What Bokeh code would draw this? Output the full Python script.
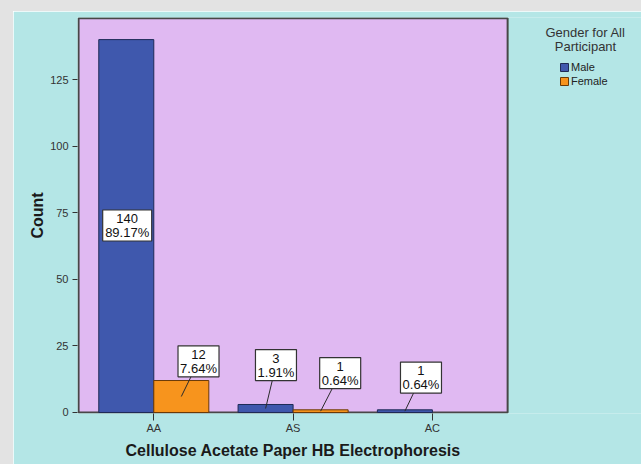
from bokeh.plotting import figure
from bokeh.models import (Range1d, FixedTicker, Legend, LegendItem, Label, Title,
                          ColumnDataSource, BoxAnnotation)
from bokeh.core.properties import value
from bokeh.embed import file_html
from bokeh.resources import INLINE

# ---- data ----
categories = ["AA", "AS", "AC"]
male_counts = [140, 3, 1]
female_counts = [12, 1, 0]
y_ticks = [0, 25, 50, 75, 100, 125]
legend_title = ["Gender for All", "Participant"]
series_names = ["Male", "Female"]
x_title = "Cellulose Acetate Paper HB Electrophoresis"
y_title = "Count"

total = sum(male_counts) + sum(female_counts)

# ---- styling / label placement (not data) ----
BG_GRAY = "#e3e3e3"
TEAL = "#b4e6e6"
PURPLE = "#e0b9f2"
MALE_C = "#3f58ad"
FEMALE_C = "#f7941d"
FONT = "Liberation Sans"
BAR_W = 0.395
OFF = 0.1975
X_LO, X_HI = -0.54, 2.54       # extent of the plotting area (purple)
Y_HI = 148.0
# label box centre: offset from category centre (x units) and height (count units)
male_lab_dx = [-0.191, -0.123, -0.082]
male_lab_y = [70.2, 17.8, 13.1]
female_lab_dx = [0.321, 0.338, 0.0]
female_lab_y = [19.2, 14.8, 0.0]

xs = list(range(len(categories)))

p = figure(width=628, height=453, output_backend="svg", toolbar_location=None,
           x_range=Range1d(-0.5477, 3.501), y_range=Range1d(-0.38, 148.3),
           min_border_left=64, min_border_right=0, min_border_top=6, min_border_bottom=51,
           background_fill_color=TEAL, border_fill_color=TEAL, outline_line_color=None)
p.styles = {"transform": "translate(13px, 11px)", "box-shadow": "0 0 0 16px " + BG_GRAY}
p.grid.visible = False

# plotting area (purple panel with dark frame)
p.add_layout(BoxAnnotation(left=X_LO, right=X_HI, bottom=0, top=Y_HI, level="underlay",
                           fill_color=PURPLE, fill_alpha=1.0, line_color="#474747",
                           line_width=2, line_alpha=1.0))

male_src = ColumnDataSource(dict(x=[x - OFF for x in xs], top=male_counts))
fem_x = [x + OFF for x, c in zip(xs, female_counts) if c > 0]
fem_top = [c for c in female_counts if c > 0]
female_src = ColumnDataSource(dict(x=fem_x, top=fem_top))

# leader lines + label boxes
lx0, ly0, lx1, ly1 = [], [], [], []
bx, by, bw, t1, t2 = [], [], [], [], []
for i, x in enumerate(xs):
    for cnt, dx, ly, off in ((male_counts[i], male_lab_dx[i], male_lab_y[i], -OFF),
                             (female_counts[i], female_lab_dx[i], female_lab_y[i], OFF)):
        if cnt <= 0:
            continue
        pct = "%.2f%%" % (100.0 * cnt / total)
        cx, cy = x + dx, ly
        lx0.append(x + off); ly0.append(cnt / 2.0)
        lx1.append(cx); ly1.append(cy)
        bx.append(cx); by.append(cy); bw.append(8 * len(pct) + 1)
        t1.append(str(cnt)); t2.append(pct)

male_r = p.vbar(x="x", top="top", width=BAR_W, source=male_src, fill_color=MALE_C,
                line_color="#1e2a55", line_width=1)
female_r = p.vbar(x="x", top="top", width=BAR_W, source=female_src, fill_color=FEMALE_C,
                  line_color="#6a3a08", line_width=1)

p.segment(x0=lx0, y0=ly0, x1=lx1, y1=ly1, line_color="#2b2b2b", line_width=1)
p.rect(x=bx, y=by, width=bw, height=31, width_units="screen", height_units="screen",
       fill_color="white", line_color="#333333", line_width=1.2)
p.text(x=bx, y=by, text=t1, y_offset=-7, text_align="center", text_baseline="middle",
       text_font=value(FONT), text_font_size="13px", text_color="#111111")
p.text(x=bx, y=by, text=t2, y_offset=7, text_align="center", text_baseline="middle",
       text_font=value(FONT), text_font_size="13px", text_color="#111111")

# axes
p.xaxis.ticker = FixedTicker(ticks=xs)
p.xaxis.major_label_overrides = {i: c for i, c in enumerate(categories)}
p.yaxis.ticker = FixedTicker(ticks=y_ticks)
for ax in (p.xaxis[0], p.yaxis[0]):
    ax.axis_line_color = None
    ax.minor_tick_line_color = None
    ax.major_tick_in = 0
    ax.major_tick_line_color = "#333333"
    ax.major_label_text_font = FONT
    ax.major_label_text_font_size = "11px"
    ax.major_label_text_color = "#333333"
    ax.axis_label_text_font = FONT
    ax.axis_label_text_font_style = "bold"
    ax.axis_label_text_color = "#1a1a1a"
p.yaxis.major_tick_out = 5
p.yaxis.major_label_standoff = 4
p.yaxis.axis_label = y_title
p.yaxis.axis_label_text_font_size = "16px"
p.yaxis.axis_label_standoff = 1
p.xaxis.major_tick_out = 7
p.xaxis.major_label_standoff = 1

# x-axis title, aligned under the purple panel
p.add_layout(Title(text=x_title, align="left", offset=48, standoff=6,
                   text_font=FONT, text_font_size="16px", text_font_style="bold",
                   text_color="#1a1a1a"), "below")

# legend
legend = Legend(items=[LegendItem(label=series_names[0], renderers=[male_r]),
                       LegendItem(label=series_names[1], renderers=[female_r])],
                location=(482, 326), border_line_color=None, background_fill_alpha=0,
                padding=0, margin=0, glyph_width=10, glyph_height=10, label_height=10,
                label_standoff=2, spacing=2, label_text_font=FONT,
                label_text_font_size="11px", label_text_color="#222222")
p.add_layout(legend)
for j, t in enumerate(legend_title):
    p.add_layout(Label(x=508, y=381 - 13.5 * j, x_units="screen", y_units="screen",
                       text=t, text_align="center", text_baseline="alphabetic",
                       text_font=FONT, text_font_size="13px", text_color="#333333"))

open("out.html", "w").write(file_html(p, INLINE))
